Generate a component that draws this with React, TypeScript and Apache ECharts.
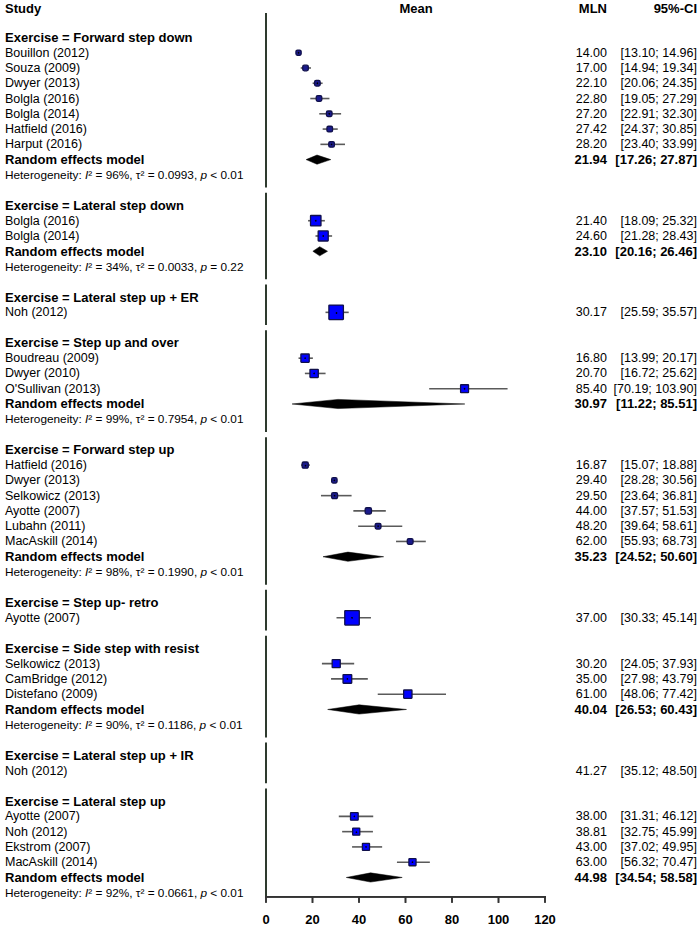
import React, { useEffect, useRef } from 'react';
import * as echarts from 'echarts';

// ---------- data ----------
const groupNames = [
  'Forward step down',
  'Lateral step down',
  'Lateral step up + ER',
  'Step up and over',
  'Forward step up',
  'Step up- retro',
  'Side step with resist',
  'Lateral step up + IR',
  'Lateral step up',
];

const studyNames = [
  'Bouillon (2012)', 'Souza (2009)', 'Dwyer (2013)', 'Bolgla (2016)', 'Bolgla (2014)', 'Hatfield (2016)', 'Harput (2016)',
  'Bolgla (2016)', 'Bolgla (2014)',
  'Noh (2012)',
  'Boudreau (2009)', 'Dwyer (2010)', "O'Sullivan (2013)",
  'Hatfield (2016)', 'Dwyer (2013)', 'Selkowicz (2013)', 'Ayotte (2007)', 'Lubahn (2011)', 'MacAskill (2014)',
  'Ayotte (2007)',
  'Selkowicz (2013)', 'CamBridge (2012)', 'Distefano (2009)',
  'Noh (2012)',
  'Ayotte (2007)', 'Noh (2012)', 'Ekstrom (2007)', 'MacAskill (2014)',
];
const studyGroup = [0, 0, 0, 0, 0, 0, 0, 1, 1, 2, 3, 3, 3, 4, 4, 4, 4, 4, 4, 5, 6, 6, 6, 7, 8, 8, 8, 8];
const studyMLN = [14.0, 17.0, 22.1, 22.8, 27.2, 27.42, 28.2, 21.4, 24.6, 30.17, 16.8, 20.7, 85.4, 16.87, 29.4, 29.5, 44.0, 48.2, 62.0, 37.0, 30.2, 35.0, 61.0, 41.27, 38.0, 38.81, 43.0, 63.0];
const studyLower = [13.1, 14.94, 20.06, 19.05, 22.91, 24.37, 23.4, 18.09, 21.28, 25.59, 13.99, 16.72, 70.19, 15.07, 28.28, 23.64, 37.57, 39.64, 55.93, 30.33, 24.05, 27.98, 48.06, 35.12, 31.31, 32.75, 37.02, 56.32];
const studyUpper = [14.96, 19.34, 24.35, 27.29, 32.3, 30.85, 33.99, 25.32, 28.43, 35.57, 20.17, 25.62, 103.9, 18.88, 30.56, 36.81, 51.53, 58.61, 68.73, 45.14, 37.93, 43.79, 77.42, 48.5, 46.12, 45.99, 49.95, 70.47];
// relative weight within subgroup (%), read from square sizes (0 = no square drawn in the original)
const studyWeight = [13, 15, 15, 15, 15, 15, 15, 52, 48, 100, 33, 33, 30, 18, 14, 17, 19, 16, 16, 100, 31, 36, 33, 0, 28, 24, 24, 24];

const pooledMLN = [21.94, 23.1, null, 30.97, 35.23, null, 40.04, null, 44.98];
const pooledLower = [17.26, 20.16, null, 11.22, 24.52, null, 26.53, null, 34.54];
const pooledUpper = [27.87, 26.46, null, 85.51, 50.6, null, 60.43, null, 58.58];
const hetI2 = ['96%', '34%', null, '99%', '98%', null, '90%', null, '92%'];
const hetTau2 = ['0.0993', '0.0033', null, '0.7954', '0.1990', null, '0.1186', null, '0.0661'];
const hetP = ['< 0.01', '= 0.22', null, '< 0.01', '< 0.01', null, '< 0.01', null, '< 0.01'];

const xMin = 0;
const xMax = 120;
const xStep = 20;

// ---------- layout helpers ----------
const FONT = '"Liberation Sans", Arial, sans-serif';
const ROW_FS = 12.5;
const BOLD_FS = 13;
const HET_FS = 11.8;
const X_LEFT_TEXT = 5;
const X_MLN = 607;
const X_CI = 697;

type Row = { kind: 'header' | 'study' | 'pooled' | 'het' | 'blank'; g: number; s?: number };
const rows: Row[] = [];
groupNames.forEach((_, g) => {
  rows.push({ kind: 'header', g });
  studyGroup.forEach((sg, s) => {
    if (sg === g) rows.push({ kind: 'study', g, s });
  });
  if (pooledMLN[g] != null) {
    rows.push({ kind: 'pooled', g });
    rows.push({ kind: 'het', g });
  }
  if (g < groupNames.length - 1) rows.push({ kind: 'blank', g });
});

// rows are placed at y = -index (top row highest); x axis drawn at yAxisLine
const yTop = 1.6;
const yAxisLine = -(rows.length - 1 + 0.27);
const yBottom = yAxisLine - 2.17;
const blankIdx = rows.map((r, i) => (r.kind === 'blank' ? i : -1)).filter((i) => i >= 0);
const GAP = 0.17;
const segStarts = [yTop, ...blankIdx.map((b) => -b - GAP)];
const segEnds = [...blankIdx.map((b) => -b + GAP), yAxisLine];
const segments = segStarts.map((s, i) => [s, segEnds[i]]);

const tickValues: number[] = [];
for (let v = xMin; v <= xMax; v += xStep) tickValues.push(v);

const fmt = (v: number) => v.toFixed(2);
const ciText = (lo: number, hi: number) => `[${fmt(lo)}; ${fmt(hi)}]`;

function txt(x: number, y: number, text: string, align: string, bold: boolean, size?: number) {
  const fs = size ?? (bold ? BOLD_FS : ROW_FS);
  return {
    type: 'text',
    x,
    y,
    silent: true,
    style: {
      text,
      fill: '#000',
      font: `${bold ? 'bold ' : ''}${fs}px ${FONT}`,
      align,
      verticalAlign: 'middle',
    },
  };
}

// axis line + ticks + labels, positioned through the scales
function axisChildren(api: any) {
  const out: any[] = [];
  const a = api.coord([xMin, yAxisLine]);
  const b = api.coord([xMax, yAxisLine]);
  out.push({
    type: 'line',
    z2: 50,
    shape: { x1: a[0] - 1, y1: a[1], x2: b[0] + 1, y2: b[1] },
    style: { stroke: '#333', lineWidth: 1.8 },
  });
  tickValues.forEach((v) => {
    const p = api.coord([v, yAxisLine]);
    out.push({
      type: 'line',
      z2: 50,
      shape: { x1: p[0], y1: p[1], x2: p[0], y2: p[1] + 6 },
      style: { stroke: '#333', lineWidth: 1.6 },
    });
    out.push({
      type: 'text',
      x: p[0],
      y: p[1] + 23,
      silent: true,
      style: { text: String(v), fill: '#000', font: `bold 13px ${FONT}`, align: 'center', verticalAlign: 'middle' },
    });
  });
  return out;
}

function renderRow(params: any, api: any) {
  const r = rows[params.dataIndex];
  const yv = -params.dataIndex;
  const y = api.coord([0, yv])[1];
  const px = (v: number) => api.coord([v, yv])[0];
  const children: any[] = [];
  if (r.kind === 'header') {
    children.push(txt(X_LEFT_TEXT, y, `Exercise = ${groupNames[r.g]}`, 'left', true));
  } else if (r.kind === 'study') {
    const s = r.s as number;
    children.push(txt(X_LEFT_TEXT, y, studyNames[s], 'left', false));
    children.push(txt(X_MLN, y, fmt(studyMLN[s]), 'right', false));
    children.push(txt(X_CI, y, ciText(studyLower[s], studyUpper[s]), 'right', false));
    if (studyWeight[s] > 0) {
      const side = 1.45 * Math.sqrt(studyWeight[s]);
      const cx = px(studyMLN[s]);
      children.push({
        type: 'line',
        shape: { x1: px(studyLower[s]), y1: y, x2: px(studyUpper[s]), y2: y },
        style: { stroke: '#5a5a5a', lineWidth: 1.6 },
      });
      children.push({
        type: 'rect',
        shape: { x: cx - side / 2, y: y - side / 2, width: side, height: side, r: side < 7 ? 1.5 : 0.5 },
        style: { fill: side < 7 ? '#1a1a8c' : '#0000ff', stroke: '#10104a', lineWidth: 1.3 },
      });
      children.push({
        type: 'circle',
        shape: { cx, cy: y, r: 0.8 },
        style: { fill: '#000' },
      });
    }
  } else if (r.kind === 'pooled') {
    const m = pooledMLN[r.g] as number;
    const lo = pooledLower[r.g] as number;
    const hi = pooledUpper[r.g] as number;
    children.push(txt(X_LEFT_TEXT, y, 'Random effects model', 'left', true));
    children.push(txt(X_MLN, y, fmt(m), 'right', true));
    children.push(txt(X_CI, y, ciText(lo, hi), 'right', true));
    const h = 4.6;
    children.push({
      type: 'polygon',
      shape: { points: [[px(lo), y], [px(m), y - h], [px(hi), y], [px(m), y + h]] },
      style: { fill: '#000', stroke: '#000', lineWidth: 0.5 },
    });
  } else if (r.kind === 'het') {
    const base = { fontSize: HET_FS, fontFamily: FONT, fill: '#000' };
    children.push({
      type: 'text',
      x: X_LEFT_TEXT,
      y,
      silent: true,
      style: {
        text: `{n|Heterogeneity: }{it|I}{n|² = ${hetI2[r.g]}, τ² = ${hetTau2[r.g]}, }{it|p}{n| ${hetP[r.g]}}`,
        fill: '#000',
        font: `${HET_FS}px ${FONT}`,
        align: 'left',
        verticalAlign: 'middle',
        rich: {
          n: { ...base },
          it: { ...base, fontStyle: 'italic' },
        },
      },
    });
  }
  if (params.dataIndex === rows.length - 1) children.push(...axisChildren(api));
  return { type: 'group', children };
}

function renderSeg(params: any, api: any) {
  const seg = segments[params.dataIndex];
  const p1 = api.coord([0, seg[0]]);
  const p2 = api.coord([0, seg[1]]);
  return {
    type: 'rect',
    shape: { x: p1[0] - 1, y: p1[1], width: 2, height: p2[1] - p1[1] },
    style: { fill: '#2e3a2e' },
  };
}

const headerGraphics: any[] = [
  { type: 'text', x: 5, y: 8, silent: true, style: { text: 'Study', font: `bold ${BOLD_FS}px ${FONT}`, fill: '#000', align: 'left', verticalAlign: 'middle' } },
  { type: 'text', x: 416, y: 8, silent: true, style: { text: 'Mean', font: `bold ${BOLD_FS}px ${FONT}`, fill: '#000', align: 'center', verticalAlign: 'middle' } },
  { type: 'text', x: X_MLN, y: 8, silent: true, style: { text: 'MLN', font: `bold ${BOLD_FS}px ${FONT}`, fill: '#000', align: 'right', verticalAlign: 'middle' } },
  { type: 'text', x: X_CI, y: 8, silent: true, style: { text: '95%-CI', font: `bold ${BOLD_FS}px ${FONT}`, fill: '#000', align: 'right', verticalAlign: 'middle' } },
];

const option: any = {
  animation: false,
  backgroundColor: '#fff',
  grid: { left: 266, right: 155, top: 13, bottom: 0, containLabel: false },
  xAxis: {
    type: 'value',
    min: xMin,
    max: xMax,
    interval: xStep,
    axisLine: { show: false, onZero: false },
    axisTick: { show: false },
    axisLabel: { show: false },
    splitLine: { show: false },
  },
  yAxis: {
    type: 'value',
    min: yBottom,
    max: yTop,
    axisLine: { show: false },
    axisTick: { show: false },
    axisLabel: { show: false },
    splitLine: { show: false },
  },
  graphic: headerGraphics,
  series: [
    {
      type: 'custom',
      name: 'reference',
      renderItem: renderSeg,
      data: segments.map((s) => [0, s[0]]),
      encode: { x: 0, y: 1 },
      silent: true,
      clip: false,
      z: 1,
    },
    {
      type: 'custom',
      name: 'forest',
      renderItem: renderRow,
      data: rows.map((_, i) => [0, -i]),
      encode: { x: 0, y: 1 },
      silent: true,
      clip: false,
      z: 2,
    },
  ],
};

export default function App() {
  const ref = useRef<HTMLDivElement>(null);
  useEffect(() => {
    const chart = echarts.init(ref.current as HTMLDivElement, undefined, { renderer: 'svg' });
    chart.setOption(option);
    // second copy of the axis line and ticks as graphic polylines, placed through the scales
    try {
      const a = chart.convertToPixel({ gridIndex: 0 }, [xMin, yAxisLine]) as number[];
      const b = chart.convertToPixel({ gridIndex: 0 }, [xMax, yAxisLine]) as number[];
      const extra: any[] = [
        {
          type: 'polyline',
          z: 100,
          shape: { points: [[a[0] - 1, a[1]], [b[0] + 1, b[1]]] },
          style: { stroke: '#333', lineWidth: 1.8, fill: 'none' },
        },
      ];
      tickValues.forEach((v) => {
        const p = chart.convertToPixel({ gridIndex: 0 }, [v, yAxisLine]) as number[];
        extra.push({
          type: 'polyline',
          z: 100,
          shape: { points: [[p[0], p[1]], [p[0], p[1] + 6]] },
          style: { stroke: '#333', lineWidth: 1.6, fill: 'none' },
        });
      });
      chart.setOption({ graphic: [...headerGraphics, ...extra] });
    } catch (e) {
      // keep the chart as drawn
    }
    return () => chart.dispose();
  }, []);
  return (
    <div
      ref={ref}
      style={{ position: 'fixed', left: 0, top: 0, width: 700, height: 930, background: '#fff' }}
    />
  );
}
